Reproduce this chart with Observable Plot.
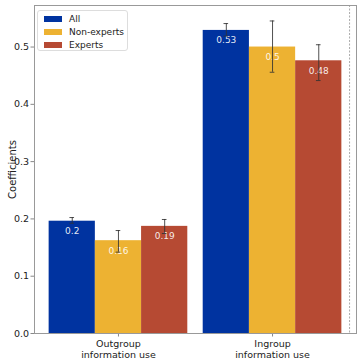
<!DOCTYPE html>
<html>
<head>
<meta charset="utf-8">
<script src="https://cdn.jsdelivr.net/npm/d3@7"></script>
<script src="https://cdn.jsdelivr.net/npm/@observablehq/plot@0.6"></script>
<style>
  html, body { margin: 0; padding: 0; background: #fff; }
  #wrap { position: relative; width: 362px; height: 362px; font-family: "DejaVu Sans", sans-serif; }
  #legend { position: absolute; left: 37px; top: 10px; width: 89px; height: 39px;
    border: 1px solid #dddddd; border-radius: 3px; background: rgba(255,255,255,0.8); font-size: 9px; color: #222; }
  .item { position: absolute; left: 6px; height: 10px; display: flex; align-items: center; }
  .sw { width: 18px; height: 6px; margin-right: 7px; }
</style>
</head>
<body>
<div id="wrap"><div id="legend"></div></div>
<script>
const groups = ["Outgroup\ninformation use", "Ingroup\ninformation use"];
const series = ["All", "Non-experts", "Experts"];
const colors = ["#0033A0", "#EDB232", "#B64A33"];
const allValues = [0.196, 0.529];
const nonExpertValues = [0.162, 0.500];
const expertValues = [0.187, 0.476];
const allLow = [0.1925, 0.519];
const allHigh = [0.2024, 0.541];
const nonExpertLow = [0.142, 0.456];
const nonExpertHigh = [0.1797, 0.5455];
const expertLow = [0.1745, 0.4415];
const expertHigh = [0.199, 0.504];
const yTicks = [0, 0.1, 0.2, 0.3, 0.4, 0.5];

const values = [allValues, nonExpertValues, expertValues];
const lows = [allLow, nonExpertLow, expertLow];
const highs = [allHigh, nonExpertHigh, expertHigh];
const barWidth = 0.3;
const fmt = d3.format(".2~f");

const rows = groups.flatMap((g, gi) => series.map((s, si) => {
  const c = gi + (si - 1) * barWidth;
  return {g, s, c, x1: c - barWidth / 2, x2: c + barWidth / 2,
    v: values[si][gi], lo: lows[si][gi], hi: highs[si][gi], label: fmt(values[si][gi])};
}));

const chart = Plot.plot({
  width: 362, height: 362,
  marginLeft: 34, marginRight: 6, marginTop: 5, marginBottom: 29,
  style: {fontFamily: "DejaVu Sans, sans-serif", fontSize: "9px", color: "#222", background: "white"},
  x: {domain: [-0.545, groups.length - 1 + 0.545]},
  y: {domain: [0, 0.5725]},
  color: {domain: series, range: colors},
  marks: [
    Plot.rectY(rows, {x1: "x1", x2: "x2", y1: 0, y2: "v", fill: "s"}),
    Plot.text(rows, {x: "c", y: "v", text: "label", dy: 10, fill: "white", fillOpacity: 0.9, fontSize: 9}),
    Plot.ruleX(rows, {x: "c", y1: "lo", y2: "hi", stroke: "#333", strokeOpacity: 0.85, strokeWidth: 1}),
    Plot.ruleY(rows, {y: "lo", x1: d => d.c - 0.015, x2: d => d.c + 0.015, stroke: "#333", strokeOpacity: 0.85}),
    Plot.ruleY(rows, {y: "hi", x1: d => d.c - 0.015, x2: d => d.c + 0.015, stroke: "#333", strokeOpacity: 0.85}),
    Plot.ruleX([groups.length - 0.5], {stroke: "#aaa", strokeDasharray: "2,1.5", strokeWidth: 1}),
    Plot.axisX({ticks: groups.map((g, i) => i), tickFormat: i => groups[i], tickSize: 3.5, tickPadding: 2,
      lineHeight: 1.2, stroke: "#888", fill: "#222", fontSize: 9.5, label: null}),
    Plot.axisY({ticks: yTicks, tickFormat: ".1f", tickSize: 3.5, tickPadding: 2, stroke: "#888", fill: "#222", fontSize: 9.5,
      label: "Coefficients", labelAnchor: "center", labelArrow: "none", labelOffset: 26}),
    Plot.frame({stroke: "#999", strokeWidth: 1})
  ]
});
chart.querySelectorAll('[aria-label="y-axis label"] text').forEach(t => t.style.fontSize = "10px");
document.getElementById("wrap").prepend(chart);

const legend = document.getElementById("legend");
series.forEach((s, i) => {
  const item = document.createElement("div");
  item.className = "item";
  item.style.top = (2.5 + i * 13) + "px";
  const sw = document.createElement("div");
  sw.className = "sw";
  sw.style.background = colors[i];
  const tx = document.createElement("span");
  tx.textContent = s;
  item.append(sw, tx);
  legend.append(item);
});
</script>
</body>
</html>
